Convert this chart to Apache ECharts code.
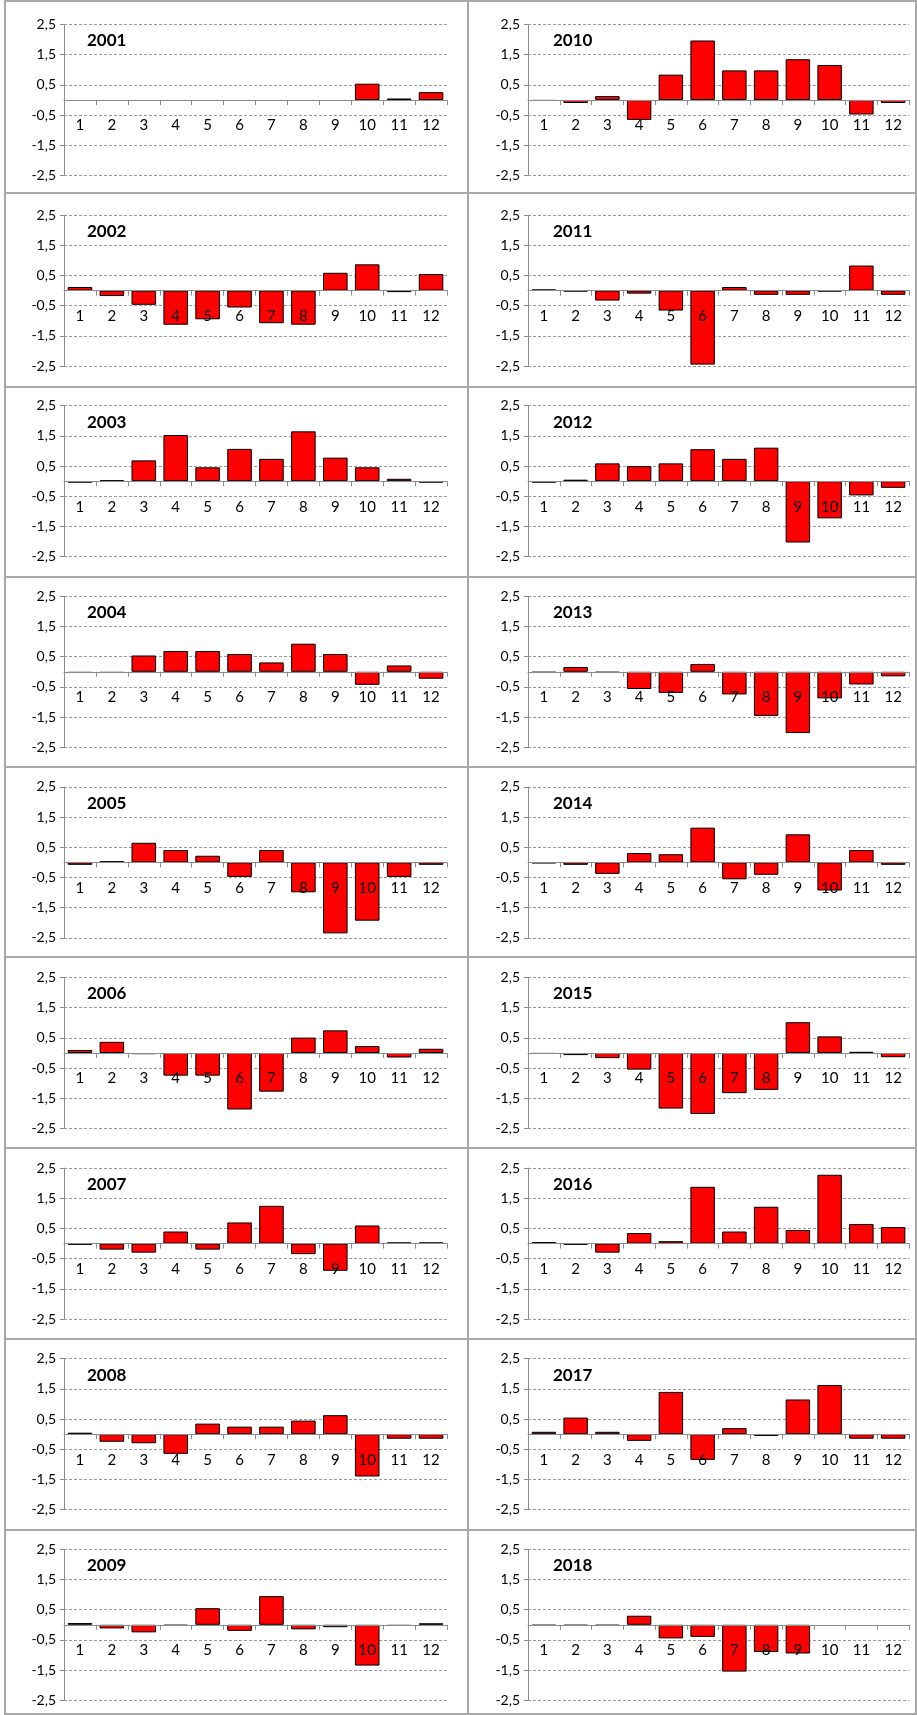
<!DOCTYPE html>
<html>
<head>
<meta charset="utf-8">
<script src="https://cdn.jsdelivr.net/npm/echarts@6/dist/echarts.min.js"></script>
<style>
  html, body { margin: 0; padding: 0; background: #fff; }
  #chart { width: 917px; height: 1715px; }
</style>
</head>
<body>
<div id="chart"></div>
<script>
const months = ['1', '2', '3', '4', '5', '6', '7', '8', '9', '10', '11', '12'];
const yearsLeft = ['2001', '2002', '2003', '2004', '2005', '2006', '2007', '2008', '2009'];
const yearsRight = ['2010', '2011', '2012', '2013', '2014', '2015', '2016', '2017', '2018'];
const yTicks = [-2.5, -1.5, -0.5, 0.5, 1.5, 2.5];

// monthly values
const v2001 = [null, null, null, null, null, null, null, null, null, 0.54, 0.05, 0.26];
const v2002 = [0.12, -0.18, -0.47, -1.13, -0.95, -0.56, -1.08, -1.13, 0.59, 0.87, -0.05, 0.55];
const v2003 = [-0.05, 0.03, 0.69, 1.53, 0.46, 1.07, 0.74, 1.65, 0.78, 0.46, 0.08, -0.05];
const v2004 = [-0.04, -0.04, 0.54, 0.69, 0.69, 0.59, 0.31, 0.93, 0.59, -0.43, 0.21, -0.23];
const v2005 = [-0.08, 0.04, 0.65, 0.41, 0.22, -0.48, 0.41, -0.99, -2.35, -1.93, -0.48, -0.08];
const v2006 = [0.1, 0.37, -0.04, -0.75, -0.75, -1.87, -1.28, 0.51, 0.75, 0.23, -0.15, 0.14];
const v2007 = [-0.04, -0.2, -0.3, 0.4, -0.2, 0.7, 1.25, -0.35, -0.9, 0.6, 0.04, 0.04];
const v2008 = [0.05, -0.25, -0.3, -0.65, 0.35, 0.25, 0.25, 0.45, 0.63, -1.4, -0.15, -0.15];
const v2009 = [0.06, -0.12, -0.25, -0.03, 0.55, -0.2, 0.95, -0.15, -0.08, -1.35, -0.04, 0.05];
const v2010 = [-0.03, -0.1, 0.13, -0.66, 0.84, 1.97, 0.98, 0.98, 1.35, 1.16, -0.48, -0.1];
const v2011 = [0.04, -0.03, -0.33, -0.1, -0.66, -2.45, 0.12, -0.14, -0.14, -0.03, 0.83, -0.14];
const v2012 = [-0.05, 0.05, 0.59, 0.5, 0.59, 1.06, 0.74, 1.11, -2.03, -1.23, -0.47, -0.22];
const v2013 = [-0.03, 0.16, -0.03, -0.57, -0.7, 0.26, -0.75, -1.46, -2.03, -0.88, -0.42, -0.15];
const v2014 = [-0.03, -0.08, -0.38, 0.31, 0.27, 1.15, -0.56, -0.41, 0.93, -0.93, 0.41, -0.08];
const v2015 = [-0.03, -0.07, -0.17, -0.55, -1.84, -2.02, -1.33, -1.22, 1.02, 0.55, 0.04, -0.14];
const v2016 = [0.05, -0.04, -0.3, 0.35, 0.08, 1.88, 0.4, 1.22, 0.45, 2.28, 0.65, 0.55];
const v2017 = [0.08, 0.55, 0.08, -0.22, 1.4, -0.85, 0.2, -0.06, 1.15, 1.63, -0.15, -0.15];
const v2018 = [-0.03, -0.03, -0.03, 0.3, -0.45, -0.4, -1.55, -0.9, -0.95, null, null, null];

const valuesLeft = [v2001, v2002, v2003, v2004, v2005, v2006, v2007, v2008, v2009];
const valuesRight = [v2010, v2011, v2012, v2013, v2014, v2015, v2016, v2017, v2018];

const FONT = 'Lato, "Open Sans", sans-serif';
const ROW_PITCH = 190.6;
const GRID_TOP0 = 24.5;
const GRID_HEIGHT = 151;

// column geometry: plot left edge, plot width, title x
const columns = [
    { left: 64, width: 383, titleX: 87 },
    { left: 528, width: 381, titleX: 553 }
];

function commaLabel(v) {
    return v.toFixed(1).replace('.', ',');
}

let grid = [];
let xAxis = [];
let yAxis = [];
let series = [];
let title = [];

[ [yearsLeft, valuesLeft], [yearsRight, valuesRight] ].forEach((pair, col) => {
    const c = columns[col];
    pair[0].forEach((year, row) => {
        const idx = grid.length;
        const top = GRID_TOP0 + ROW_PITCH * row;
        grid.push({ left: c.left, top: top, width: c.width, height: GRID_HEIGHT });

        // the month axis sits on the zero line (middle of the plot)
        xAxis.push({
            type: 'category',
            gridIndex: idx,
            data: months,
            position: 'bottom',
            offset: -GRID_HEIGHT / 2,
            z: 10,
            axisLine: { onZero: false, lineStyle: { color: '#8c8c8c', width: 1 } },
            axisTick: { show: true, length: 5, lineStyle: { color: '#8c8c8c' } },
            axisLabel: { margin: 18, color: '#000', fontSize: 15, fontFamily: FONT, interval: 0 },
            splitLine: { show: false }
        });

        yAxis.push({
            type: 'value',
            gridIndex: idx,
            min: yTicks[0],
            max: yTicks[yTicks.length - 1],
            interval: 1,
            axisLine: { show: true, lineStyle: { color: '#8c8c8c', width: 1 } },
            axisTick: { show: true, length: 4, lineStyle: { color: '#8c8c8c' } },
            axisLabel: { formatter: commaLabel, color: '#000', fontSize: 14, fontFamily: FONT, margin: 8 },
            splitLine: { show: true, lineStyle: { color: '#9a9a9a', type: [3, 2], width: 1 } }
        });

        series.push({
            type: 'bar',
            name: year,
            xAxisIndex: idx,
            yAxisIndex: idx,
            data: pair[1][row],
            barCategoryGap: '23%',
            itemStyle: { color: '#ff0000', borderColor: '#000', borderWidth: 1 },
            animation: false
        });

        title.push({
            text: year,
            left: c.titleX,
            top: top + 8,
            padding: 0,
            textStyle: { fontSize: 17, fontWeight: 'bold', color: '#000', fontFamily: FONT }
        });
    });
});

// panel frame lines
const frameColor = '#a8a8a8';
let graphic = [];
const rowBorders = [1, 193, 387, 577, 767, 957, 1148, 1339, 1530, 1714];
rowBorders.forEach(y => {
    graphic.push({
        type: 'line', silent: true,
        shape: { x1: 5, y1: y, x2: 917, y2: y },
        style: { stroke: frameColor, lineWidth: 2 }
    });
});
[5, 468, 916].forEach(x => {
    graphic.push({
        type: 'line', silent: true,
        shape: { x1: x, y1: 0, x2: x, y2: 1715 },
        style: { stroke: frameColor, lineWidth: 2 }
    });
});

echarts.init(document.getElementById('chart')).setOption({
    animation: false,
    backgroundColor: '#fff',
    title: title,
    grid: grid,
    xAxis: xAxis,
    yAxis: yAxis,
    series: series,
    graphic: graphic
});
</script>
</body>
</html>
